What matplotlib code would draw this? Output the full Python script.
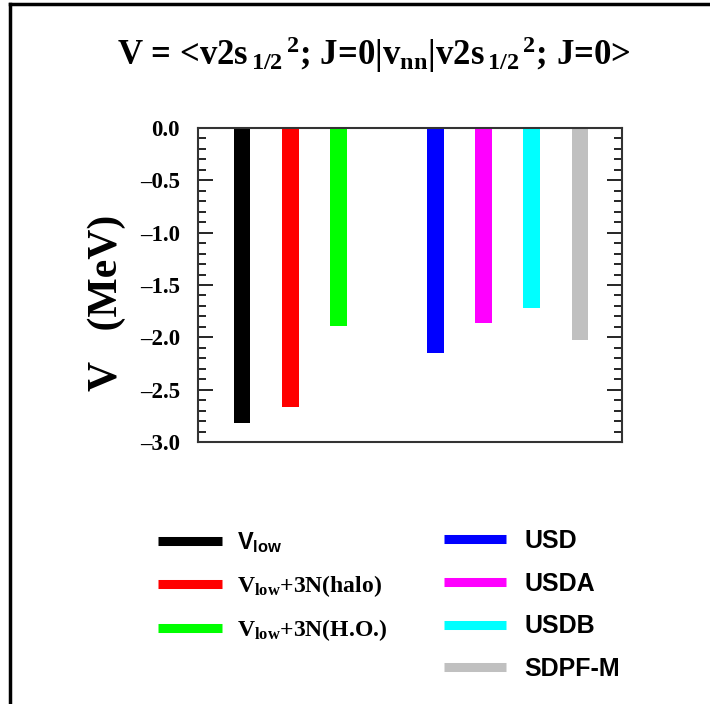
import matplotlib
matplotlib.use('Agg')
import matplotlib.pyplot as plt
from matplotlib.lines import Line2D
import numpy as np

plt.rcParams['font.family'] = 'Liberation Serif'
plt.rcParams['font.weight'] = 'bold'
plt.rcParams['axes.labelweight'] = 'bold'
plt.rcParams['mathtext.fontset'] = 'custom'
plt.rcParams['mathtext.rm'] = 'Liberation Serif:bold'
plt.rcParams['mathtext.it'] = 'Liberation Serif:bold'
plt.rcParams['mathtext.bf'] = 'Liberation Serif:bold'
plt.rcParams['mathtext.sf'] = 'Liberation Sans:bold'

# matrix elements (MeV) for each interaction
labels = [r'$\mathsf{V}_{\mathsf{low}}$',
          r'V$_{\mathrm{low}}$+3N(halo)',
          r'V$_{\mathrm{low}}$+3N(H.O.)',
          'USD', 'USDA', 'USDB', 'SDPF-M']
values = [-2.82, -2.67, -1.89, -2.15, -1.86, -1.72, -2.03]
positions = [1, 2, 3, 5, 6, 7, 8]
colors = ['#000000', '#ff0000', '#00ff00', '#0000ff', '#ff00ff', '#00ffff', '#c0c0c0']
yticks = [-3.0, -2.5, -2.0, -1.5, -1.0, -0.5, 0.0]

fig = plt.figure(figsize=(7.1, 7.04), dpi=100)
ax = fig.add_axes([0.2789, 0.3722, 0.5972, 0.446])

ax.bar(positions, values, width=0.35, color=colors, align='center')

ax.set_xlim(0.09, 8.87)
ax.set_ylim(-3.0, 0.0)
ax.set_xticks([])
ax.set_yticks(yticks)
ax.set_yticks(np.arange(-3.0, 0.01, 0.1), minor=True)
ax.set_yticklabels([('%.1f' % v).replace('-', '\u2013') for v in yticks])
ax.tick_params(axis='y', which='both', direction='in', left=True, right=True,
               labelsize=16.5, pad=13)
ax.tick_params(axis='y', which='major', length=11, width=1.2)
ax.tick_params(axis='y', which='minor', length=6, width=1.2)
for s in ax.spines.values():
    s.set_linewidth(1.5)
    s.set_color('#333333')

ax.set_ylabel('V   (MeV)', fontsize=30, fontweight='bold')
ax.yaxis.set_label_coords(-0.17, 0.443)

fig.text(0.527, 0.922,
         r'V = <v2s$_{\,1/2}{}^{\,2}$; J=0|v$_{nn}$|v2s$_{\,1/2}{}^{\,2}$; J=0>',
         ha='center', va='center', fontsize=25)

# two-column legend, split by family of interaction
handles = [Line2D([0], [0], color=c, lw=6.5, solid_capstyle='butt') for c in colors]
leg1 = ax.legend(handles[:3], labels[:3], loc='upper left',
                 bbox_to_anchor=(0.206, 0.2635), bbox_transform=fig.transFigure,
                 frameon=False, fontsize=17, handlelength=2.7,
                 handletextpad=0.64, labelspacing=0.78, borderpad=0)
ax.add_artist(leg1)
leg2 = ax.legend(handles[3:], labels[3:], loc='upper left',
                 bbox_to_anchor=(0.608, 0.2665), bbox_transform=fig.transFigure,
                 frameon=False, prop={'family': 'Liberation Sans', 'weight': 'bold', 'size': 18},
                 handlelength=2.48, handletextpad=0.72, labelspacing=0.75, borderpad=0)

# outer frame (top and left edges)
fig.add_artist(Line2D([9.5 / 710, 1.0], [1 - 4 / 704, 1 - 4 / 704],
                      transform=fig.transFigure, color='black', lw=2.5))
fig.add_artist(Line2D([9.5 / 710, 9.5 / 710], [0.0, 1 - 4 / 704],
                      transform=fig.transFigure, color='black', lw=2.5))

fig.savefig('out.png', dpi=100)
